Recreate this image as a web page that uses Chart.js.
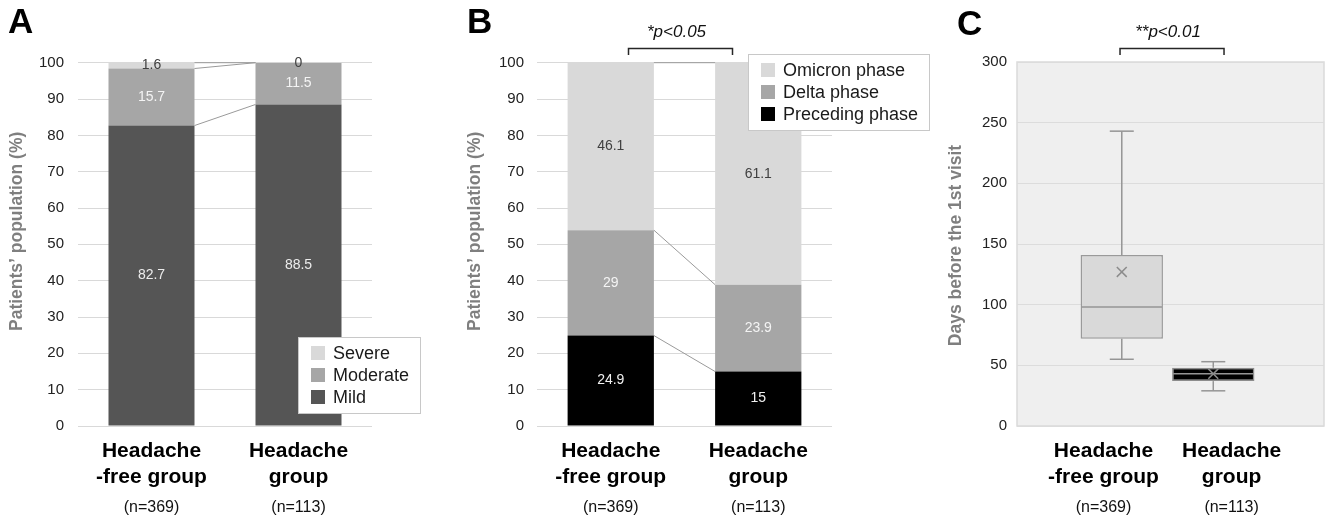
<!DOCTYPE html>
<html>
<head>
<meta charset="utf-8">
<script src="https://cdn.jsdelivr.net/npm/chart.js@4.4.1/dist/chart.umd.min.js"></script>
<style>
  html, body { margin: 0; padding: 0; background: #fff; }
  #wrap { position: relative; width: 1328px; height: 526px; overflow: hidden; }
  #wrap canvas { position: absolute; top: 0; }
</style>
</head>
<body>
<div id="wrap">
  <canvas id="chartA" width="455" height="526" style="left:0px"></canvas>
  <canvas id="chartB" width="478" height="526" style="left:458px"></canvas>
  <canvas id="chartC" width="389" height="526" style="left:939px"></canvas>
</div>
<script>
const FONT = '"Liberation Sans", Arial, sans-serif';

// groups (x axis)
const groupNames = [['Headache', '-free group'], ['Headache', 'group']];
const groupSizes = ['(n=369)', '(n=113)'];

// panel A - headache severity, % of patients
const mildPct = [82.7, 88.5];
const moderatePct = [15.7, 11.5];
const severePct = [1.6, 0];

// panel B - infection phase, % of patients
const precedingPct = [24.9, 15];
const deltaPct = [29, 23.9];
const omicronPct = [46.1, 61.1];

// panel C - days before the 1st visit (box plot stats)
const daysMin = [55, 29];
const daysQ1 = [72, 37];
const daysMedian = [98, 43];
const daysQ3 = [141, 48];
const daysMax = [243, 53];
const daysMean = [127, 43];
const groupPos = [1, 2];       // box positions on the x scale
const groupLabelPos = [0.8, 2.2];

const pTextB = '*p<0.05';
const pTextC = '**p<0.01';

Chart.defaults.font.family = FONT;
Chart.defaults.animation = false;

// ---- plugins ----
const panelLetter = {
  id: 'panelLetter',
  afterDraw(chart, args, opts) {
    const ctx = chart.ctx;
    ctx.save();
    ctx.font = 'bold 35px ' + FONT;
    ctx.fillStyle = '#000';
    ctx.textAlign = 'left';
    ctx.textBaseline = 'alphabetic';
    ctx.fillText(opts.text, opts.x, opts.y);
    ctx.restore();
  }
};

// rotated y-axis title, nudged vertically like the original
const yTitle = {
  id: 'yTitle',
  afterDraw(chart, args, opts) {
    const { ctx, chartArea: a } = chart;
    ctx.save();
    ctx.translate(opts.x, (a.top + a.bottom) / 2 + opts.shift);
    ctx.rotate(-Math.PI / 2);
    ctx.font = 'bold 17.5px ' + FONT;
    ctx.fillStyle = '#7f7f7f';
    ctx.textAlign = 'center';
    ctx.textBaseline = 'middle';
    ctx.fillText(opts.text, 0, 0);
    ctx.restore();
  }
};

const sigBracket = {
  id: 'sigBracket',
  afterDraw(chart, args, opts) {
    const xs = chart.scales.x, ctx = chart.ctx;
    const p0 = xs.getPixelForValue(opts.from), p1 = xs.getPixelForValue(opts.to);
    const mid = (p0 + p1) / 2 + opts.shift;
    ctx.save();
    ctx.strokeStyle = '#262626';
    ctx.lineWidth = 1.5;
    ctx.beginPath();
    ctx.moveTo(mid - 52, 55);
    ctx.lineTo(mid - 52, 48.5);
    ctx.lineTo(mid + 52, 48.5);
    ctx.lineTo(mid + 52, 55);
    ctx.stroke();
    ctx.font = 'italic 17px ' + FONT;
    ctx.fillStyle = '#111';
    ctx.textAlign = 'center';
    ctx.textBaseline = 'middle';
    ctx.fillText(opts.text, mid - 4, 32);
    ctx.restore();
  }
};

// thin lines joining the segment tops of neighbouring bars
const seriesLines = {
  id: 'seriesLines',
  afterDatasetsDraw(chart) {
    const ctx = chart.ctx;
    ctx.save();
    ctx.strokeStyle = '#9a9a9a';
    ctx.lineWidth = 1;
    chart.data.datasets.forEach((ds, i) => {
      const bars = chart.getDatasetMeta(i).data;
      for (let k = 0; k + 1 < bars.length; k++) {
        const a = bars[k], b = bars[k + 1];
        ctx.beginPath();
        ctx.moveTo(a.x + a.width / 2, a.y);
        ctx.lineTo(b.x - b.width / 2, b.y);
        ctx.stroke();
      }
    });
    ctx.restore();
  }
};

const segLabels = {
  id: 'segLabels',
  afterDatasetsDraw(chart) {
    const ctx = chart.ctx;
    ctx.save();
    ctx.font = '14px ' + FONT;
    ctx.textAlign = 'center';
    ctx.textBaseline = 'middle';
    chart.data.datasets.forEach((ds, i) => {
      ctx.fillStyle = ds.labelColor;
      chart.getDatasetMeta(i).data.forEach((bar, k) => {
        ctx.fillText(String(ds.data[k]), bar.x, (bar.y + bar.base) / 2);
      });
    });
    ctx.restore();
  }
};

const boxLegend = {
  id: 'boxLegend',
  afterDraw(chart, args, opts) {
    const ctx = chart.ctx;
    const items = chart.data.datasets.slice().reverse();
    ctx.save();
    ctx.font = '18px ' + FONT;
    const textW = Math.max(...items.map(d => ctx.measureText(d.label).width));
    const w = Math.round(35 + textW + 11), h = 32 + (items.length - 1) * 22;
    const x = opts.left, y = opts.top;
    ctx.fillStyle = '#fff';
    ctx.fillRect(x, y, w, h);
    ctx.strokeStyle = '#c8c8c8';
    ctx.lineWidth = 1;
    ctx.strokeRect(x + 0.5, y + 0.5, w, h);
    ctx.textAlign = 'left';
    ctx.textBaseline = 'middle';
    items.forEach((d, i) => {
      const cy = y + 16 + i * 22;
      ctx.fillStyle = d.backgroundColor;
      ctx.fillRect(x + 13, cy - 7, 14, 14);
      ctx.fillStyle = '#1a1a1a';
      ctx.fillText(d.label, x + 35, cy + 1);
    });
    ctx.restore();
  }
};

function pctOptions(padRight, axisW, tickPad, legendLeft, legendTop, letter, bracket) {
  return {
    responsive: false,
    events: [],
    layout: { autoPadding: false, padding: { left: 0, right: padRight, top: 62.7, bottom: 0 } },
    datasets: { bar: { categoryPercentage: 1, barPercentage: 0.585 } },
    plugins: {
      legend: { display: false },
      tooltip: { enabled: false },
      boxLegend: { left: legendLeft, top: legendTop },
      panelLetter: letter,
      sigBracket: bracket,
      yTitle: { text: 'Patients’ population (%)', x: 17.5, shift: -13 }
    },
    scales: {
      x: {
        stacked: true,
        grid: { display: false, drawTicks: false },
        border: { display: false },
        ticks: { font: { size: 21, weight: 'bold', lineHeight: 1.2 }, color: '#000', padding: 13, maxRotation: 0, autoSkip: false },
        afterFit: s => { s.height = 68; }
      },
      xn: {
        type: 'category',
        labels: groupSizes,
        position: 'bottom',
        offset: true,
        grid: { display: false, drawTicks: false },
        border: { display: false },
        ticks: { font: { size: 16 }, color: '#111', padding: 4, maxRotation: 0, autoSkip: false },
        afterFit: s => { s.height = 32; }
      },
      y: {
        stacked: true,
        min: 0,
        max: 100,
        ticks: { stepSize: 10, font: { size: 15 }, color: '#222', padding: tickPad },
        grid: { color: '#d9d9d9', drawTicks: false },
        border: { display: false },
        afterFit: s => { s.width = axisW; }
      }
    }
  };
}

// ---- panel A ----
new Chart(document.getElementById('chartA'), {
  type: 'bar',
  data: {
    labels: groupNames,
    datasets: [
      { label: 'Mild', data: mildPct, backgroundColor: '#555555', labelColor: '#ececec' },
      { label: 'Moderate', data: moderatePct, backgroundColor: '#a6a6a6', labelColor: '#f4f4f4' },
      { label: 'Severe', data: severePct, backgroundColor: '#d9d9d9', labelColor: '#404040' }
    ]
  },
  options: pctOptions(83, 78, 14, 298, 337, { text: 'A', x: 8, y: 33 }, false),
  plugins: [seriesLines, segLabels, boxLegend, panelLetter, yTitle]
});

// ---- panel B ----
new Chart(document.getElementById('chartB'), {
  type: 'bar',
  data: {
    labels: groupNames,
    datasets: [
      { label: 'Preceding phase', data: precedingPct, backgroundColor: '#000000', labelColor: '#f0f0f0' },
      { label: 'Delta phase', data: deltaPct, backgroundColor: '#a6a6a6', labelColor: '#f4f4f4' },
      { label: 'Omicron phase', data: omicronPct, backgroundColor: '#d9d9d9', labelColor: '#404040' }
    ]
  },
  options: pctOptions(104, 79, 13, 290, 54, { text: 'B', x: 9, y: 33 }, { from: 0, to: 1, shift: -4, text: pTextB }),
  plugins: [seriesLines, segLabels, boxLegend, panelLetter, sigBracket, yTitle]
});

// ---- panel C ----
const plotBg = {
  id: 'plotBg',
  beforeDraw(chart) {
    const { ctx, chartArea: a } = chart;
    ctx.save();
    ctx.fillStyle = '#efefef';
    ctx.fillRect(a.left, a.top, a.width, a.height);
    ctx.strokeStyle = '#dadada';
    ctx.lineWidth = 1.5;
    ctx.strokeRect(a.left, a.top, a.width, a.height);
    ctx.restore();
  }
};

const boxWhiskers = {
  id: 'boxWhiskers',
  afterDatasetDraw(chart, args) {
    if (args.meta.type !== 'bar') return;
    const ys = chart.scales.y, ctx = chart.ctx;
    const seg = (x0, y0, x1, y1) => { ctx.beginPath(); ctx.moveTo(x0, y0); ctx.lineTo(x1, y1); ctx.stroke(); };
    args.meta.data.forEach((bar, i) => {
      const x = bar.x, half = bar.width / 2;
      ctx.save();
      ctx.strokeStyle = '#959595';
      ctx.lineWidth = 1.5;
      const yMed = ys.getPixelForValue(daysMedian[i]);
      seg(x - half + 1, yMed, x + half - 1, yMed);
      const yQ3 = ys.getPixelForValue(daysQ3[i]), yMax = ys.getPixelForValue(daysMax[i]);
      const yQ1 = ys.getPixelForValue(daysQ1[i]), yMin = ys.getPixelForValue(daysMin[i]);
      seg(x, yQ3, x, yMax);
      seg(x - 12, yMax, x + 12, yMax);
      seg(x, yQ1, x, yMin);
      seg(x - 12, yMin, x + 12, yMin);
      ctx.restore();
    });
  }
};

const xMin = -0.145, xMax = 3.21;
new Chart(document.getElementById('chartC'), {
  type: 'bar',
  data: {
    datasets: [
      {
        type: 'bar',
        label: 'IQR',
        order: 2,
        data: groupPos.map((p, i) => ({ x: p, y: [daysQ1[i], daysQ3[i]] })),
        backgroundColor: ['#d9d9d9', '#000000'],
        borderColor: ['#9a9a9a', '#8c8c8c'],
        borderWidth: 1.5,
        borderSkipped: false,
        categoryPercentage: 0.9,
        barPercentage: 1
      },
      {
        type: 'scatter',
        label: 'Mean',
        order: 1,
        data: groupPos.map((p, i) => ({ x: p, y: daysMean[i] })),
        showLine: false,
        pointStyle: 'crossRot',
        pointRadius: 7,
        pointBorderColor: '#8c8c8c',
        pointBackgroundColor: '#8c8c8c',
        pointBorderWidth: 1.5
      }
    ]
  },
  options: {
    responsive: false,
    events: [],
    layout: { autoPadding: false, padding: { left: 0, right: 4, top: 62, bottom: 0 } },
    plugins: {
      legend: { display: false },
      tooltip: { enabled: false },
      panelLetter: { text: 'C', x: 18, y: 35 },
      sigBracket: { from: groupPos[0], to: groupPos[1], shift: 4.5, text: pTextC },
      yTitle: { text: 'Days before the 1st visit', x: 17, shift: 1.5 }
    },
    scales: {
      x: {
        type: 'linear', min: xMin, max: xMax, offset: false,
        grid: { display: false, drawTicks: false },
        border: { display: false },
        afterBuildTicks: s => { s.ticks = groupLabelPos.map(v => ({ value: v })); },
        ticks: { callback: (v, i) => groupNames[i], font: { size: 21, weight: 'bold', lineHeight: 1.2 }, color: '#000', padding: 13, maxRotation: 0, autoSkip: false },
        afterFit: s => { s.height = 68; }
      },
      xn: {
        type: 'linear', min: xMin, max: xMax, position: 'bottom', offset: false,
        grid: { display: false, drawTicks: false },
        border: { display: false },
        afterBuildTicks: s => { s.ticks = groupLabelPos.map(v => ({ value: v })); },
        ticks: { callback: (v, i) => groupSizes[i], font: { size: 16 }, color: '#111', padding: 4, maxRotation: 0, autoSkip: false },
        afterFit: s => { s.height = 32; }
      },
      y: {
        min: 0, max: 300,
        ticks: { stepSize: 50, font: { size: 15 }, color: '#222', padding: 10 },
        grid: { color: '#dcdcdc', drawTicks: false },
        border: { display: false },
        afterFit: s => { s.width = 78; }
      }
    }
  },
  plugins: [plotBg, boxWhiskers, panelLetter, sigBracket, yTitle]
});
</script>
</body>
</html>
